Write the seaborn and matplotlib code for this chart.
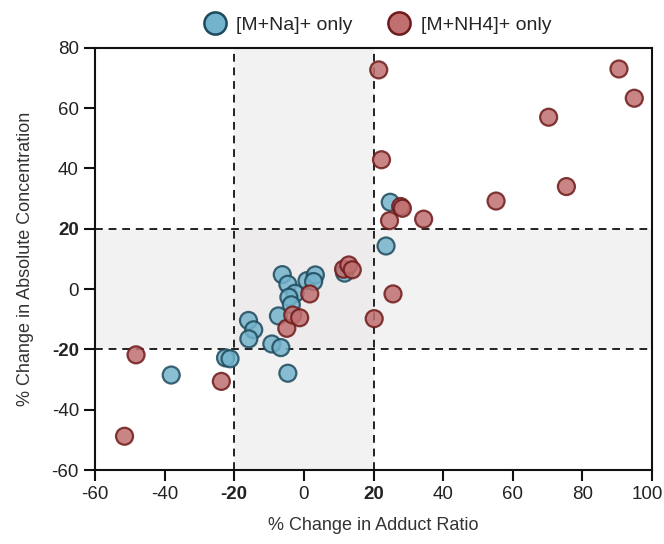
import matplotlib
matplotlib.use("Agg")
import matplotlib.pyplot as plt
import matplotlib.transforms as mtransforms
from matplotlib.lines import Line2D
import seaborn as sns
import pandas as pd

# % change in adduct ratio (x) and absolute concentration (y)
na_x = [-38.1, -22.5, -21.2, -15.9, -14.4, -15.8, -9.2, -6.6, -4.6, -7.3,
        -6.2, -4.6, -2.5, -4.3, -3.6, 0.9, 3.3, 2.8, 11.7, 23.6, 24.8]
na_y = [-28.5, -22.8, -23.1, -10.4, -13.5, -16.5, -18.2, -19.4, -27.9, -8.9,
        4.8, 1.6, -1.4, -2.7, -5.2, 2.8, 4.7, 2.5, 5.3, 14.3, 28.8]

nh4_x = [-51.5, -48.2, -23.7, -4.9, -3.2, -1.2, 1.7, 11.4, 12.9, 13.9,
         20.2, 25.6, 24.6, 34.4, 27.8, 28.3, 22.3, 55.2, 75.4, 70.3,
         21.5, 90.5, 94.9]
nh4_y = [-48.8, -21.8, -30.6, -13.0, -8.6, -9.5, -1.6, 6.6, 8.0, 6.4,
         -9.8, -1.6, 22.7, 23.2, 27.4, 26.8, 42.9, 29.2, 34.0, 57.0,
         72.7, 73.0, 63.3]

groups = ["[M+Na]+ only", "[M+NH4]+ only"]
x_ticks = [-60, -40, -20, 0, 20, 40, 60, 80, 100]
y_ticks = [-60, -40, -20, 0, 20, 40, 60, 80]
threshold = 20

face = {groups[0]: "#74b3cc", groups[1]: "#c07070"}
edge = {groups[0]: "#1d4a5c", groups[1]: "#6e1a1a"}

df = pd.DataFrame({
    "ratio": na_x + nh4_x,
    "conc": na_y + nh4_y,
    "group": [groups[0]] * len(na_x) + [groups[1]] * len(nh4_x),
})

sns.set_style("ticks")
plt.rcParams["font.family"] = ["Liberation Sans", "DejaVu Sans"]

fig, ax = plt.subplots(figsize=(6.64, 5.44), dpi=100)
fig.subplots_adjust(left=0.143, right=0.982, top=0.912, bottom=0.136)

# shaded +/-20% bands
ax.axvspan(-threshold, threshold, color="#e6e3e5", alpha=0.45, lw=0, zorder=0)
ax.axhspan(-threshold, threshold, color="#e6e3e5", alpha=0.45, lw=0, zorder=0)
for v in (-threshold, threshold):
    ax.axvline(v, color="#222222", ls=(0, (4, 3)), lw=1.4, zorder=1)
    ax.axhline(v, color="#222222", ls=(0, (4, 3)), lw=1.4, zorder=1)

sns.scatterplot(data=df, x="ratio", y="conc", hue="group", hue_order=groups,
                palette=face, s=150, alpha=0.85, linewidth=1.6,
                ax=ax, zorder=3, legend=False)
ax.collections[-1].set_edgecolors(df["group"].map(edge).tolist())

ax.set_xlim(-60, 100)
ax.set_ylim(-60, 80)
ax.set_xticks(x_ticks)
ax.set_yticks(y_ticks)
ax.set_xticklabels([str(t) for t in x_ticks])
ax.set_yticklabels([str(t) for t in y_ticks])
for lab in ax.get_xticklabels() + ax.get_yticklabels():
    if lab.get_text() in ("-20", "20"):
        lab.set_fontweight("bold")
ax.tick_params(axis="both", labelsize=13.5, length=8, width=1.5, colors="#111111",
               labelcolor="#222222")
for sp in ax.spines.values():
    sp.set_linewidth(1.5)
    sp.set_color("#111111")

# nudge the last x label so it stays inside the canvas
last = ax.xaxis.get_major_ticks()[-1].label1
last.set_transform(last.get_transform() +
                   mtransforms.ScaledTranslation(-5 / 100, 0, fig.dpi_scale_trans))

ax.set_xlabel("% Change in Adduct Ratio", fontsize=13, color="#333333", labelpad=10)
ax.set_ylabel("% Change in Absolute Concentration", fontsize=13, color="#333333",
              labelpad=13)

handles = [
    Line2D([], [], ls="", marker="o", markersize=16, markerfacecolor=face[g],
           markeredgecolor=edge[g], markeredgewidth=1.8)
    for g in groups
]
ax.legend(handles, groups, loc="lower center", bbox_to_anchor=(0.5, 1.005),
          ncol=2, frameon=False, fontsize=14, handletextpad=0.1,
          columnspacing=1.4, borderaxespad=0.2)

fig.savefig("out.png", dpi=100)
